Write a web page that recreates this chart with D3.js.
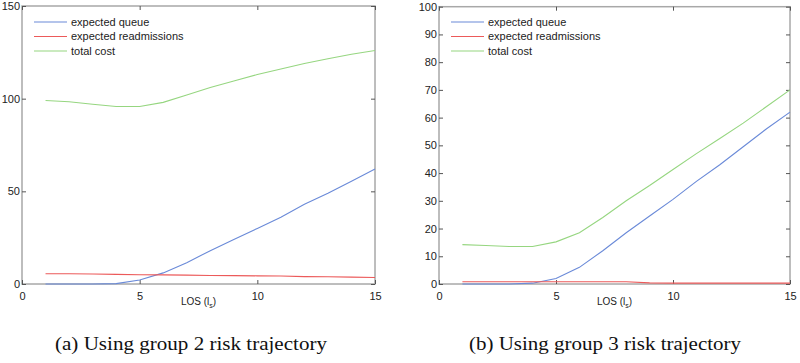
<!DOCTYPE html>
<html>
<head>
<meta charset="utf-8">
<script src="https://d3js.org/d3.v7.min.js"></script>
<style>
    body { margin: 0; background: #fff; }
    svg { display: block; }
    .tick text { font-family: "Liberation Sans", Arial, sans-serif; font-size: 11px; fill: #222; }
    .legend text { font-family: "Liberation Sans", Arial, sans-serif; font-size: 11px; fill: #222; }
    .xlabel { font-family: "Liberation Sans", Arial, sans-serif; font-size: 10px; fill: #222; }
    .caption { font-family: "Liberation Serif", "DejaVu Serif", serif; font-size: 19px; fill: #111; }
</style>
</head>
<body>
<div id="chart"></div>
<script>
// x values (LOS)
const los = [1, 2, 3, 4, 5, 6, 7, 8, 9, 10, 11, 12, 13, 14, 15];

// group 2 risk trajectory
const queueA = [0, 0, 0, 0.2, 2.2, 6, 11.5, 18, 24, 30, 36, 43, 49, 55.5, 62];
const readmitA = [5.5, 5.5, 5.4, 5.2, 5.0, 4.9, 4.8, 4.6, 4.5, 4.4, 4.3, 4.0, 3.9, 3.7, 3.5];
const costA = [99, 98.3, 97, 95.8, 95.8, 98, 102, 106, 109.5, 113, 116, 119, 121.5, 124, 126];

// group 3 risk trajectory
const queueB = [0, 0, 0, 0.3, 2, 6, 12, 18.5, 24.5, 30.5, 37, 43, 49.5, 56, 62];
const readmitB = [0.8, 0.8, 0.8, 0.8, 0.8, 0.8, 0.8, 0.8, 0.4, 0.3, 0.3, 0.3, 0.3, 0.3, 0.3];
const costB = [14.2, 13.9, 13.5, 13.5, 15.2, 18.5, 24, 30, 35.5, 41.3, 47, 52.5, 58, 64, 70];

const xTicks = [0, 5, 10, 15];
const yTicksA = [0, 50, 100, 150];
const yTicksB = [0, 10, 20, 30, 40, 50, 60, 70, 80, 90, 100];

const seriesNames = ["expected queue", "expected readmissions", "total cost"];
const seriesColors = ["#6a8ad8", "#ec5a5a", "#96d680"];

const captions = ["(a) Using group 2 risk trajectory", "(b) Using group 3 risk trajectory"];

const width = 800, height = 363;

const svg = d3.select("#chart").append("svg")
    .attr("width", width)
    .attr("height", height);

const panels = [
    {left: 22, right: 375, top: 6, bottom: 284, yMax: 150, yTicks: yTicksA,
        series: [queueA, readmitA, costA], caption: captions[0], capX: 191},
    {left: 439, right: 790, top: 6.7, bottom: 284, yMax: 100, yTicks: yTicksB,
        series: [queueB, readmitB, costB], caption: captions[1], capX: 605}
];

panels.forEach(p => {
    let x = d3.scaleLinear().domain([0, 15]).range([p.left, p.right]);
    let y = d3.scaleLinear().domain([0, p.yMax]).range([p.bottom, p.top]);

    let g = svg.append("g");

    // box
    g.append("rect")
        .attr("x", p.left)
        .attr("y", p.top)
        .attr("width", p.right - p.left)
        .attr("height", p.bottom - p.top)
        .attr("fill", "none")
        .attr("stroke", "#a8a8a8")
        .attr("stroke-width", 1.5);

    // axes with inward ticks
    let xAxis = g.append("g")
        .attr("transform", `translate(0, ${p.bottom})`)
        .call(d3.axisBottom(x).tickValues(xTicks).tickSizeInner(-4).tickSizeOuter(0).tickPadding(8));
    let xTop = g.append("g")
        .attr("transform", `translate(0, ${p.top})`)
        .call(d3.axisTop(x).tickValues(xTicks).tickSizeInner(-4).tickSizeOuter(0).tickFormat(""));
    let yAxis = g.append("g")
        .attr("transform", `translate(${p.left}, 0)`)
        .call(d3.axisLeft(y).tickValues(p.yTicks).tickSizeInner(-4).tickSizeOuter(0).tickPadding(2));
    let yRight = g.append("g")
        .attr("transform", `translate(${p.right}, 0)`)
        .call(d3.axisRight(y).tickValues(p.yTicks).tickSizeInner(-4).tickSizeOuter(0).tickFormat(""));

    [xAxis, xTop, yAxis, yRight].forEach(a => {
        a.select(".domain").remove();
        a.selectAll(".tick line").attr("stroke", "#555");
    });

    // lines
    let line = d3.line()
        .x((d, i) => x(los[i]))
        .y(d => y(d));

    p.series.forEach((s, i) => {
        g.append("path")
            .datum(s)
            .attr("fill", "none")
            .attr("stroke", seriesColors[i])
            .attr("stroke-width", 1.1)
            .attr("d", line);
    });

    // legend
    let legend = g.append("g")
        .attr("class", "legend")
        .attr("transform", `translate(${p.left + 12}, 22)`);
    seriesNames.forEach((name, i) => {
        legend.append("line")
            .attr("x1", 0).attr("x2", 33)
            .attr("y1", i * 14.5).attr("y2", i * 14.5)
            .attr("stroke", seriesColors[i])
            .attr("stroke-width", 1.1);
        legend.append("text")
            .attr("x", 37)
            .attr("y", i * 14.5)
            .attr("dy", "0.35em")
            .text(name);
    });

    // x label LOS (l_s)
    let xl = g.append("text")
        .attr("class", "xlabel")
        .attr("x", (p.left + p.right) / 2)
        .attr("y", 305)
        .attr("text-anchor", "middle");
    xl.append("tspan").text("LOS (l");
    xl.append("tspan").attr("font-size", "7px").attr("dy", 3).text("s");
    xl.append("tspan").attr("dy", -3).text(")");

    // caption
    svg.append("text")
        .attr("class", "caption")
        .attr("x", p.capX)
        .attr("y", 350)
        .attr("text-anchor", "middle")
        .attr("textLength", 272)
        .attr("lengthAdjust", "spacingAndGlyphs")
        .text(p.caption);
});
</script>
</body>
</html>
